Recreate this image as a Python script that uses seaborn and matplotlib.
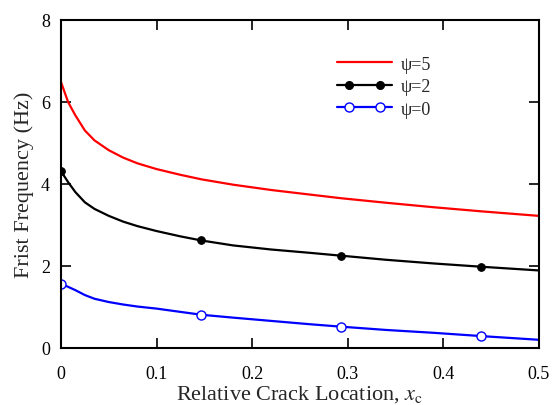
import matplotlib
matplotlib.use("Agg")
import matplotlib.pyplot as plt
import numpy as np
import pandas as pd
import seaborn as sns
from matplotlib.lines import Line2D
from matplotlib.legend_handler import HandlerLine2D, HandlerTuple


# relative crack location and first frequency
x_c = [0, 0.0075, 0.015, 0.025, 0.035, 0.05, 0.065, 0.08, 0.1, 0.125,
       0.147, 0.18, 0.22, 0.26, 0.293, 0.34, 0.39, 0.44, 0.5]
freq_psi5 = [6.48, 5.99, 5.67, 5.30, 5.06, 4.82, 4.64, 4.50, 4.36, 4.22,
             4.11, 3.98, 3.85, 3.74, 3.65, 3.54, 3.43, 3.33, 3.22]
freq_psi2 = [4.31, 4.04, 3.80, 3.55, 3.39, 3.22, 3.08, 2.97, 2.85, 2.72,
             2.62, 2.50, 2.40, 2.32, 2.25, 2.15, 2.06, 1.98, 1.89]
freq_psi0 = [1.57, 1.49, 1.41, 1.29, 1.20, 1.12, 1.06, 1.01, 0.96, 0.88,
             0.81, 0.74, 0.66, 0.58, 0.52, 0.44, 0.37, 0.29, 0.20]
labels = ["ψ=5", "ψ=2", "ψ=0"]
mark_at = [0, 10, 14, 17]

df = pd.DataFrame({"x": x_c, "psi5": freq_psi5, "psi2": freq_psi2, "psi0": freq_psi0})

sns.set_theme(style="ticks")
plt.rcParams["font.family"] = ["Liberation Serif", "DejaVu Serif"]
plt.rcParams["mathtext.fontset"] = "stix"

fig = plt.figure(figsize=(5.52, 4.06), dpi=100)
ax = fig.add_axes([0.1105, 0.1404, 0.8655, 0.8086])

red, blue = "#ff0000", "#0000ff"
sns.lineplot(data=df, x="x", y="psi5", ax=ax, color=red, linewidth=1.6)
sns.lineplot(data=df, x="x", y="psi2", ax=ax, color="black", linewidth=1.6,
             marker="o", markersize=5.5, markeredgecolor="black", markevery=mark_at)
sns.lineplot(data=df, x="x", y="psi0", ax=ax, color=blue, linewidth=1.6,
             marker="o", markersize=6.5, markerfacecolor="white",
             markeredgecolor=blue, markeredgewidth=1.0, markevery=mark_at)

ax.set_xlim(0, 0.5)
ax.set_ylim(0, 8)
ax.set_xticks([0, 0.1, 0.2, 0.3, 0.4, 0.5])
ax.set_xticklabels(["0", "0.1", "0.2", "0.3", "0.4", "0.5"])
ax.set_yticks([0, 2, 4, 6, 8])
ax.tick_params(direction="in", length=7, width=1.2, labelsize=13,
               top=True, right=True, colors="black")
ax.tick_params(axis="x", pad=12)
ax.tick_params(axis="y", pad=8)
for s in ax.spines.values():
    s.set_linewidth(1.5)
    s.set_color("black")

ax.set_xlabel("Relative Crack Location, $x_\\mathrm{c}$", fontsize=16, labelpad=1)
ax.set_ylabel("Frist Frequency (Hz)", fontsize=16, labelpad=5)

# legend: line spans full handle, markers sit inside it
line_parts = [Line2D([], [], color=c, linewidth=1.6) for c in (red, "black", blue)]
mark_parts = [
    Line2D([], [], linestyle="none"),
    Line2D([], [], linestyle="none", color="black", marker="o", markersize=5.5),
    Line2D([], [], linestyle="none", marker="o", markersize=6.5,
           markerfacecolor="white", markeredgecolor=blue),
]
hmap = {h: HandlerLine2D(marker_pad=0) for h in line_parts}
hmap.update({h: HandlerLine2D(marker_pad=0.66) for h in mark_parts})
hmap[tuple] = HandlerTuple(ndivide=1)
ax.legend(list(zip(line_parts, mark_parts)), labels, loc="upper left",
          bbox_to_anchor=(0.577, 0.89), frameon=False, fontsize=13, numpoints=2,
          handlelength=3.05, handletextpad=0.5, labelspacing=0.3, borderpad=0,
          borderaxespad=0, handler_map=hmap)

fig.savefig("out.png", dpi=100)
